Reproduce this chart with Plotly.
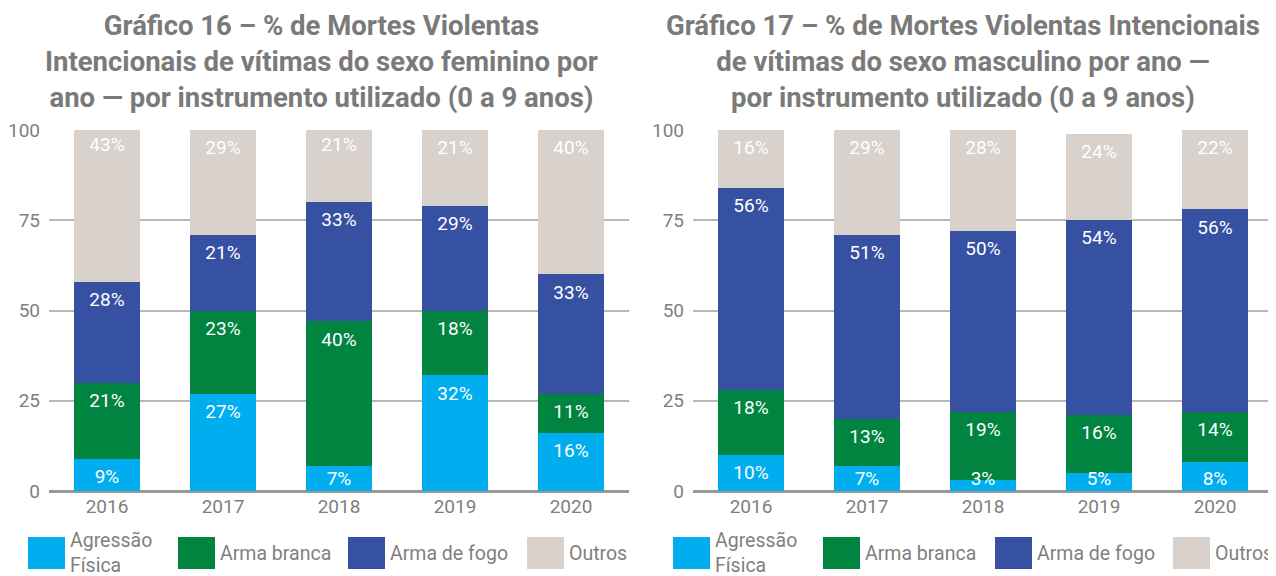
"""
Gráficos 16 e 17 - MVI de vítimas de 0 a 9 anos por instrumento
"""
import plotly.graph_objects as go
from plotly.subplots import make_subplots
import numpy as np

W, H = 1276, 576
OFF = 8  # margem padrão do <body> na página

years = ["2016", "2017", "2018", "2019", "2020"]
series_names = ["Agressão Física", "Arma branca", "Arma de fogo", "Outros"]
legend_labels = ["Agressão<br>Física", "Arma branca", "Arma de fogo", "Outros"]
colors = ["#00aeef", "#00843f", "#3650a2", "#d9d1cb"]

# feminino
fem_agressao = [9, 27, 7, 32, 16]
fem_branca = [21, 23, 40, 18, 11]
fem_fogo = [28, 21, 33, 29, 33]
fem_outros = [43, 29, 21, 21, 40]

# masculino
masc_agressao = [10, 7, 3, 5, 8]
masc_branca = [18, 13, 19, 16, 14]
masc_fogo = [56, 51, 50, 54, 56]
masc_outros = [16, 29, 28, 24, 22]

y_ticks = [0, 25, 50, 75, 100]

title_16 = ("Gráfico 16 – % de Mortes Violentas<br>"
            "Intencionais de vítimas do sexo feminino por<br>"
            "ano — por instrumento utilizado (0 a 9 anos)")
title_17 = ("Gráfico 17 – % de Mortes Violentas Intencionais<br>"
            "de vítimas do sexo masculino por ano —<br>"
            "por instrumento utilizado (0 a 9 anos)")

FONT = "Roboto, Liberation Sans, sans-serif"
GRAY = "#7f7f7f"


def px_x(px):
    return (px - OFF) / W


def px_y(py):
    return 1 - (py - OFF) / H


fig = make_subplots(rows=1, cols=2)

panels = [
    (1, [fem_agressao, fem_branca, fem_fogo, fem_outros]),
    (2, [masc_agressao, masc_branca, masc_fogo, masc_outros]),
]

for col, data in panels:
    base = np.zeros(len(years))
    for name, vals, color in zip(series_names, data, colors):
        fig.add_trace(go.Bar(
            x=years, y=vals, name=name,
            marker_color=color, marker_line_width=0,
            showlegend=False, hoverinfo="x+y+name",
        ), row=1, col=col)
        top = base + np.array(vals)
        # rótulo perto do topo de cada segmento
        label_y = np.maximum(top - 5.4, 3.0)
        fig.add_trace(go.Scatter(
            x=years, y=label_y, mode="text",
            text=[f"{v}%" for v in vals],
            textfont=dict(color="white", size=19, family=FONT),
            showlegend=False, hoverinfo="skip",
        ), row=1, col=col)
        base = top

fig.update_layout(
    barmode="stack",
    bargap=0.43,
    width=W, height=H,
    margin=dict(l=0, r=0, t=0, b=0),
    plot_bgcolor="white",
    paper_bgcolor="white",
    font=dict(family=FONT, color=GRAY, size=19),
)

y_dom = [px_y(491), px_y(130)]
fig.update_layout(
    xaxis=dict(domain=[px_x(49), px_x(629)]),
    xaxis2=dict(domain=[px_x(693), px_x(1273)]),
    yaxis=dict(domain=y_dom),
    yaxis2=dict(domain=y_dom),
)
fig.update_xaxes(showgrid=False, showline=False, ticks="", automargin=False,
                 tickfont=dict(size=19, color=GRAY), ticklabelstandoff=2)
fig.update_yaxes(range=[0, 100], tickvals=y_ticks, showgrid=True,
                 automargin=False,
                 gridcolor="#b8b8b8", gridwidth=1.5,
                 zeroline=True, zerolinecolor="#999999", zerolinewidth=2.5,
                 tickfont=dict(size=19, color=GRAY), ticklabelstandoff=8)

# títulos
for title, cx in [(title_16, 321), (title_17, 963)]:
    fig.add_annotation(
        text=f"<b>{title}</b>", xref="paper", yref="paper",
        x=px_x(cx), y=px_y(7), xanchor="center", yanchor="top",
        showarrow=False, align="center",
        font=dict(size=27.5, color="#7a7a7a", family=FONT),
    )

# legenda desenhada à mão (quadrados grandes)
legend_x = [[28, 178, 348, 527], [673, 823, 995, 1173]]
sq_w, sq_top, sq_bot = 37, 537, 569
for xs in legend_x:
    for x0, label, color in zip(xs, legend_labels, colors):
        fig.add_shape(type="rect", xref="paper", yref="paper",
                      x0=px_x(x0), x1=px_x(x0 + sq_w),
                      y0=px_y(sq_bot), y1=px_y(sq_top),
                      fillcolor=color, line_width=0)
        fig.add_annotation(
            text=label, xref="paper", yref="paper",
            x=px_x(x0 + sq_w + 3), y=px_y(553),
            xanchor="left", yanchor="middle", showarrow=False, align="left",
            font=dict(size=19.5, color=GRAY, family=FONT),
        )

fig.write_html("out.html")
